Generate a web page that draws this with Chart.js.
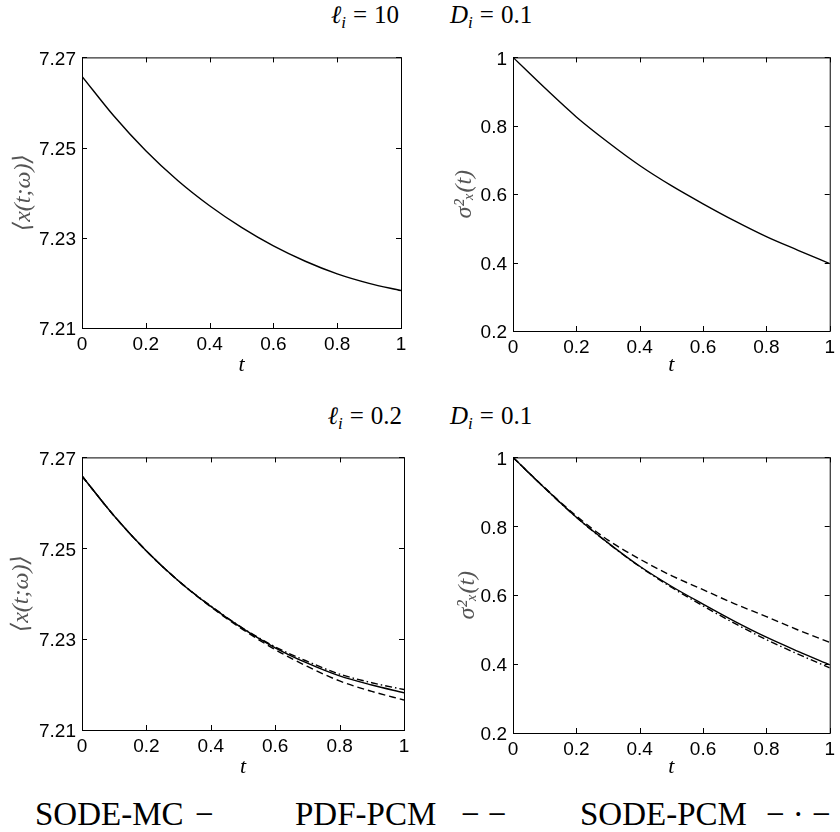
<!DOCTYPE html>
<html>
<head>
<meta charset="utf-8">
<script src="https://cdn.jsdelivr.net/npm/chart.js@4.4.1/dist/chart.umd.min.js"></script>
<style>
html, body { margin: 0; padding: 0; background: #fff; }
#page { position: relative; width: 840px; height: 832px; overflow: hidden; }
canvas { position: absolute; }
.lbl { position: absolute; font-family: 'Liberation Serif', serif; line-height: 1; white-space: nowrap; color: #000; }
.ttl { font-size: 25px; }
.leg { font-size: 33px; }
.ttl sub { font-size: 68%; vertical-align: -0.28em; line-height: 0; }
.eq { margin: 0 0.28em; }
</style>
</head>
<body>
<div id="page">
  <canvas id="c1" width="420" height="345" style="left:0;top:40px"></canvas>
  <canvas id="c2" width="420" height="345" style="left:420px;top:40px"></canvas>
  <canvas id="c3" width="420" height="345" style="left:0;top:440px"></canvas>
  <canvas id="c4" width="420" height="345" style="left:420px;top:440px"></canvas>

  <div class="lbl ttl" style="right:441px;top:2px"><i>ℓ</i><sub><i>i</i></sub><span class="eq">=</span>10</div>
  <div class="lbl ttl" style="left:450px;top:2px"><i>D</i><sub><i>i</i></sub><span class="eq">=</span>0.1</div>
  <div class="lbl ttl" style="right:438px;top:403px"><i>ℓ</i><sub><i>i</i></sub><span class="eq">=</span>0.2</div>
  <div class="lbl ttl" style="left:450px;top:403px"><i>D</i><sub><i>i</i></sub><span class="eq">=</span>0.1</div>

  <div class="lbl leg" style="left:35px;top:798px">SODE-MC</div>
  <div class="lbl leg" style="left:195px;top:798px">−</div>
  <div class="lbl leg" style="left:295px;top:798px">PDF-PCM</div>
  <div class="lbl leg" style="left:461px;top:798px">− −</div>
  <div class="lbl leg" style="left:580px;top:798px">SODE-PCM</div>
  <div class="lbl leg" style="left:766px;top:798px">− · −</div>
</div>

<script>
// time grid and tick labels
const tGrid = [0, 0.1, 0.2, 0.3, 0.4, 0.5, 0.6, 0.7, 0.8, 0.9, 1.0];
const xTicks = [0, 0.2, 0.4, 0.6, 0.8, 1];
const yTicksMean = [7.21, 7.23, 7.25, 7.27];
const yTicksVar = [0.2, 0.4, 0.6, 0.8, 1];

// l_i = 10 (all methods on top of each other)
const meanMC_l10 = [7.2658, 7.2570, 7.2493, 7.2427, 7.2371, 7.2323, 7.2282, 7.2248, 7.2220, 7.2199, 7.2183];
const varMC_l10 = [1.000, 0.911, 0.826, 0.752, 0.684, 0.625, 0.572, 0.522, 0.476, 0.436, 0.397];

// l_i = 0.2
const meanMC_l02 = [7.2659, 7.2571, 7.2494, 7.2428, 7.2372, 7.2323, 7.2281, 7.2247, 7.2219, 7.2199, 7.2182];
const meanPDF_l02 = [7.2659, 7.2571, 7.2494, 7.2428, 7.2371, 7.2321, 7.2277, 7.2240, 7.2208, 7.2185, 7.2166];
const meanSODE_l02 = [7.2659, 7.2571, 7.2494, 7.2428, 7.2373, 7.2324, 7.2283, 7.2251, 7.2223, 7.2204, 7.2189];
const varMC_l02 = [1.000, 0.911, 0.826, 0.752, 0.684, 0.626, 0.574, 0.524, 0.478, 0.437, 0.398];
const varPDF_l02 = [1.000, 0.912, 0.830, 0.760, 0.705, 0.657, 0.616, 0.575, 0.538, 0.499, 0.463];
const varSODE_l02 = [1.000, 0.911, 0.826, 0.751, 0.683, 0.623, 0.569, 0.518, 0.471, 0.429, 0.389];

Chart.defaults.font.family = "'Liberation Sans', Arial, sans-serif";
Chart.defaults.font.size = 19;
Chart.defaults.color = '#000';

const styles = {
  mc: [],
  pdf: [7, 4],
  sode: [7, 3, 1.5, 3]
};

// MATLAB-like box with inward ticks
const frame = {
  id: 'frame',
  afterDatasetsDraw(chart) {
    const { ctx, chartArea: a, scales: { x, y } } = chart;
    ctx.save();
    ctx.strokeStyle = '#000';
    ctx.lineWidth = 1;
    ctx.beginPath();
    x.ticks.forEach(t => {
      const px = Math.round(x.getPixelForValue(t.value)) + 0.5;
      ctx.moveTo(px, a.top); ctx.lineTo(px, a.top + 5);
      ctx.moveTo(px, a.bottom); ctx.lineTo(px, a.bottom - 5);
    });
    y.ticks.forEach(t => {
      const py = Math.round(y.getPixelForValue(t.value)) + 0.5;
      ctx.moveTo(a.left, py); ctx.lineTo(a.left + 5, py);
      ctx.moveTo(a.right, py); ctx.lineTo(a.right - 5, py);
    });
    ctx.stroke();
    ctx.strokeRect(a.left + 0.5, a.top + 0.5, a.right - a.left, a.bottom - a.top);
    ctx.restore();
  }
};

function series(values, dash) {
  return {
    data: values.map((v, i) => ({ x: tGrid[i], y: v })),
    borderColor: '#000',
    borderWidth: 1.4,
    borderDash: dash,
    pointRadius: 0,
    cubicInterpolationMode: 'monotone',
    fill: false
  };
}

function panel(id, area, yTicks, yTitle, yTitleX, tTitleOff, datasets) {
  const cv = document.getElementById(id);
  const W = cv.width, H = cv.height;
  new Chart(cv, {
    type: 'line',
    data: { datasets },
    plugins: [frame],
    options: {
      responsive: false,
      animation: false,
      devicePixelRatio: 1,
      layout: {
        autoPadding: false,
        padding: { left: 0, top: area.top, right: W - area.right, bottom: 0 }
      },
      plugins: { legend: { display: false }, tooltip: { enabled: false } },
      scales: {
        x: {
          type: 'linear',
          min: 0, max: 1,
          afterFit: s => { s.height = H - area.bottom; },
          afterBuildTicks: s => { s.ticks = xTicks.map(v => ({ value: v })); },
          grid: { display: false, drawTicks: false },
          border: { display: false },
          ticks: { padding: 5, maxRotation: 0, callback: v => String(v) },
          title: {
            display: true, text: 't',
            font: { family: "'Liberation Serif', serif", style: 'italic', size: 22 },
            padding: { top: 0, bottom: tTitleOff }
          }
        },
        y: {
          type: 'linear',
          min: yTicks[0], max: yTicks[yTicks.length - 1],
          afterFit: s => { s.width = area.left; },
          afterBuildTicks: s => { s.ticks = yTicks.map(v => ({ value: v })); },
          grid: { display: false, drawTicks: false },
          border: { display: false },
          ticks: { padding: 6, labelOffset: 2, callback: v => String(v) },
          title: {
            display: true, text: yTitle, color: '#555',
            font: { family: "'Liberation Serif', 'DejaVu Serif', serif", style: 'italic', size: 24 },
            padding: { top: yTitleX - 14.4, bottom: 0 }
          }
        }
      }
    }
  });
}

panel('c1', { left: 82, top: 9, right: 401, bottom: 288 }, yTicksMean, '⟨x(t;ω)⟩', 24, 7,
  [series(meanMC_l10, styles.mc)]);
panel('c2', { left: 93, top: 7, right: 415, bottom: 291 }, yTicksVar, 'σ²ₓ(t)', 45, 7,
  [series(varMC_l10, styles.mc)]);
panel('c3', { left: 82, top: 10, right: 404, bottom: 290 }, yTicksMean, '⟨x(t;ω)⟩', 22, 5,
  [series(meanMC_l02, styles.mc), series(meanPDF_l02, styles.pdf), series(meanSODE_l02, styles.sode)]);
panel('c4', { left: 93, top: 9, right: 414, bottom: 293 }, yTicksVar, 'σ²ₓ(t)', 48, 5,
  [series(varMC_l02, styles.mc), series(varPDF_l02, styles.pdf), series(varSODE_l02, styles.sode)]);
</script>
</body>
</html>
